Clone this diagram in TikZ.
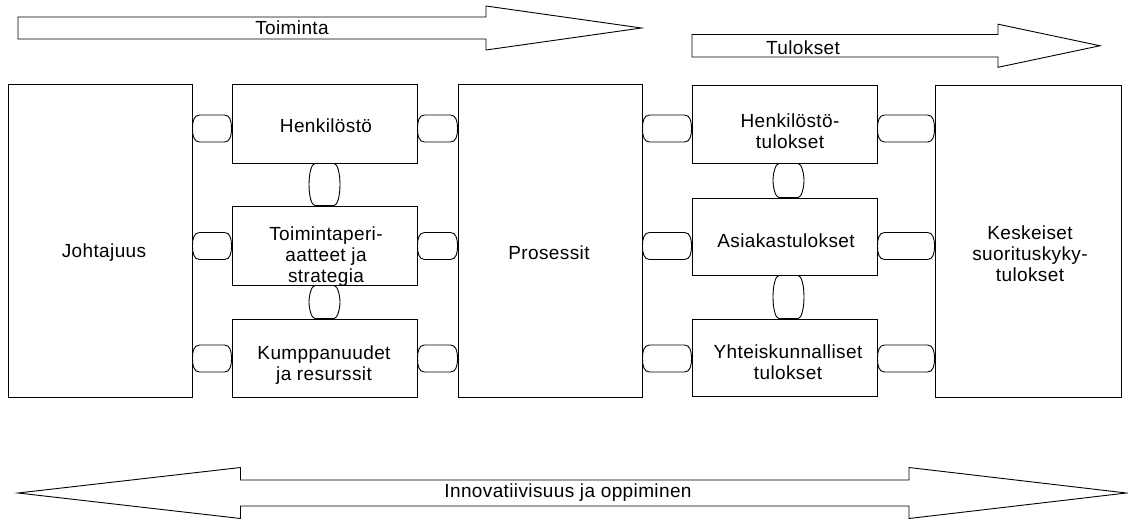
\documentclass[tikz,border=0pt]{standalone}
\usepackage{fontspec}
\setmainfont{Liberation Sans}[LetterSpace=2]
\usetikzlibrary{calc}
\newcommand\hconn[3]{%
  \path (#1.east |- #3) coordinate (cl) (#2.west |- #3) coordinate (cr);
  \draw[conn] ([shift={(7,13.5)}]cl) -- ([shift={(-7,13.5)}]cr)
    .. controls ([shift={(-1.5,13.5)}]cr) and ([shift={(0,7)}]cr) .. (cr)
    .. controls ([shift={(0,-7)}]cr) and ([shift={(-1.5,-13.5)}]cr) .. ([shift={(-7,-13.5)}]cr)
    -- ([shift={(7,-13.5)}]cl)
    .. controls ([shift={(1.5,-13.5)}]cl) and ([shift={(0,-7)}]cl) .. (cl)
    .. controls ([shift={(0,7)}]cl) and ([shift={(1.5,13.5)}]cl) .. ([shift={(7,13.5)}]cl) -- cycle;
}
\newcommand\vconn[3]{%
  \path ([xshift=#3]#1.south) coordinate (ct) ([xshift=#3]#2.north) coordinate (cb)
        ($(ct)!0.5!(cb)$) coordinate (cm);
  \draw[conn] ([shift={(-9.5,0)}]ct) -- ([shift={(9.5,0)}]ct)
    .. controls ([shift={(13,0)}]ct) and ([shift={(15.5,-10)}]ct) .. ([shift={(15.5,0)}]cm)
    .. controls ([shift={(15.5,10)}]cb) and ([shift={(13,0)}]cb) .. ([shift={(9.5,0)}]cb)
    -- ([shift={(-9.5,0)}]cb)
    .. controls ([shift={(-13,0)}]cb) and ([shift={(-15.5,10)}]cb) .. ([shift={(-15.5,0)}]cm)
    .. controls ([shift={(-15.5,-10)}]ct) and ([shift={(-13,0)}]ct) .. ([shift={(-9.5,0)}]ct) -- cycle;
}
\begin{document}
\begin{tikzpicture}[x=1pt,y=1pt,line width=0.9pt,
  box/.style={draw,rectangle,inner sep=0pt,fill=white},
  lbl/.style={font=\fontsize{19}{21}\selectfont,align=center,inner sep=0pt},
  conn/.style={draw,fill=white},
  blockarrow/.style={draw,fill=white,line join=miter}]
\useasboundingbox (0,0) rectangle (1128,-519);

% block arrows
\draw[blockarrow] (18,-17) -- (486,-17) -- (486,-6) -- (641.5,-28) -- (486,-50) -- (486,-39) -- (18,-39) -- cycle;
\draw[blockarrow] (692,-34.5) -- (998,-34.5) -- (998,-24.2) -- (1100,-45.75) -- (998,-67.3) -- (998,-57) -- (692,-57) -- cycle;
\draw[blockarrow] (18,-493) -- (240.5,-467.5) -- (240.5,-480) -- (909,-480) -- (909,-467.5) -- (1126.5,-493) -- (909,-518.5) -- (909,-506) -- (240.5,-506) -- (240.5,-518.5) -- cycle;

% boxes
\node[box,minimum width=184pt,minimum height=313pt] (J) at (100,-240.5) {};
\node[box,minimum width=185pt,minimum height=79pt] (H) at (324.5,-123.5) {};
\node[box,minimum width=185pt,minimum height=79pt] (T) at (324.5,-245.5) {};
\node[box,minimum width=185pt,minimum height=78pt] (K) at (324.5,-358) {};
\node[box,minimum width=184pt,minimum height=313pt] (P) at (550,-240.5) {};
\node[box,minimum width=185pt,minimum height=78pt] (HT) at (784.5,-124) {};
\node[box,minimum width=185pt,minimum height=77pt] (A) at (784.5,-236.5) {};
\node[box,minimum width=185pt,minimum height=77pt] (Y) at (784.5,-357.5) {};
\node[box,minimum width=186pt,minimum height=312pt] (KS) at (1028,-241) {};

\coordinate (r1) at (0,-128.5);
\coordinate (r2) at (0,-246);
\coordinate (r3) at (0,-358.5);

% horizontal connectors
\hconn{J}{H}{r1} \hconn{J}{T}{r2} \hconn{J}{K}{r3}
\hconn{H}{P}{r1} \hconn{T}{P}{r2} \hconn{K}{P}{r3}
\hconn{P}{HT}{r1} \hconn{P}{A}{r2} \hconn{P}{Y}{r3}
\hconn{HT}{KS}{r1} \hconn{A}{KS}{r2} \hconn{Y}{KS}{r3}

% vertical connectors
\vconn{H}{T}{0} \vconn{T}{K}{0}
\vconn{HT}{A}{4} \vconn{A}{Y}{4}

% labels
\node[lbl] (tToim) at (292,-28) {Toiminta};
\node[lbl] (tTul) at (803,-48) {Tulokset};
\node[lbl] (tInn) at (568,-493) {Innovatiivisuus ja oppiminen};
\node[lbl] (tJ) at (104,-253) {Johtajuus};
\node[lbl] (tH) at (326,-126) {Henkilöstö};
\node[lbl] (tT) at (326,-257) {Toimintaperi-\\aatteet ja\\strategia};
\node[lbl] (tK) at (324,-365) {Kumppanuudet\\ja resurssit};
\node[lbl] (tP) at (549,-253) {Prosessit};
\node[lbl] (tHT) at (790,-131) {Henkilöstö-\\tulokset};
\node[lbl] (tA) at (786,-241) {Asiakastulokset};
\node[lbl] (tY) at (788,-362) {Yhteiskunnalliset\\tulokset};
\node[lbl] (tKS) at (1030,-254) {Keskeiset\\suorituskyky-\\tulokset};
\end{tikzpicture}
\end{document}
